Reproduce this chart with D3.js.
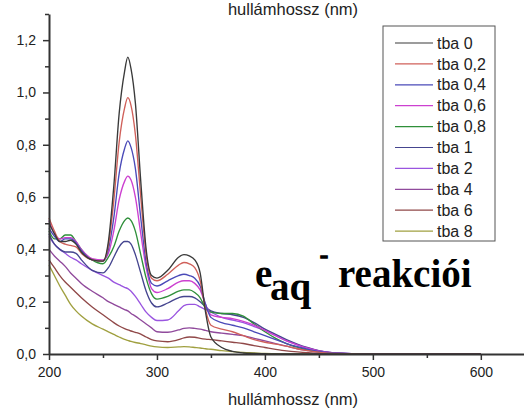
<!DOCTYPE html>
<html>
<head>
<meta charset="utf-8">
<script src="https://d3js.org/d3.v7.min.js"></script>
<style>
  body { margin: 0; background: #fff; }
  svg { display: block; }
  text { font-family: Arial, "Liberation Sans", sans-serif; fill: #222; }
  .big { font-family: "Liberation Serif", "Times New Roman", serif; font-weight: bold; fill: #000; }
</style>
</head>
<body>
<svg width="524" height="409"></svg>
<script>
// wavelengths (nm) shared by all spectra
var wavelengths = [200,205,210,215,220,225,230,240,250,255,260,265,270,273,276,280,285,290,295,300,310,320,325,330,335,340,345,350,360,370,380,390,400,410,420,430,440,450,460,480,500,550,600];

// absorbance
var tba0  = [0.50,0.46,0.43,0.43,0.435,0.42,0.39,0.36,0.355,0.43,0.64,0.92,1.08,1.135,1.09,0.96,0.66,0.40,0.30,0.29,0.32,0.37,0.38,0.375,0.36,0.31,0.16,0.065,0.025,0.01,0.004,0.002,0.001,0,0,0,0,0,0,0,0,0,0];
var tba02 = [0.52,0.47,0.43,0.42,0.415,0.41,0.385,0.36,0.355,0.415,0.585,0.81,0.94,0.98,0.95,0.84,0.60,0.38,0.29,0.28,0.305,0.34,0.35,0.345,0.33,0.28,0.17,0.11,0.095,0.085,0.07,0.055,0.045,0.038,0.03,0.02,0.013,0.007,0.003,0.001,0,0,0];
var tba04 = [0.48,0.45,0.43,0.44,0.44,0.425,0.395,0.36,0.355,0.40,0.52,0.69,0.785,0.815,0.79,0.71,0.52,0.35,0.27,0.26,0.28,0.30,0.305,0.30,0.29,0.26,0.19,0.14,0.12,0.11,0.10,0.085,0.07,0.055,0.04,0.028,0.018,0.01,0.005,0.001,0,0,0];
var tba06 = [0.51,0.46,0.44,0.445,0.445,0.43,0.40,0.365,0.36,0.385,0.47,0.59,0.66,0.68,0.665,0.60,0.46,0.33,0.25,0.235,0.25,0.275,0.28,0.28,0.27,0.245,0.19,0.15,0.14,0.135,0.125,0.11,0.09,0.07,0.05,0.035,0.022,0.012,0.006,0.001,0,0,0];
var tba08 = [0.47,0.44,0.44,0.455,0.455,0.43,0.40,0.36,0.345,0.37,0.41,0.47,0.51,0.52,0.51,0.47,0.38,0.29,0.23,0.21,0.22,0.24,0.245,0.245,0.235,0.215,0.175,0.16,0.155,0.155,0.145,0.115,0.085,0.06,0.04,0.026,0.015,0.008,0.004,0.001,0,0,0];
var tba1  = [0.46,0.42,0.40,0.39,0.39,0.385,0.36,0.32,0.31,0.33,0.37,0.41,0.43,0.43,0.42,0.38,0.31,0.24,0.195,0.18,0.195,0.215,0.22,0.22,0.215,0.20,0.18,0.165,0.155,0.15,0.14,0.12,0.095,0.075,0.055,0.038,0.024,0.013,0.006,0.001,0,0,0];
var tba2  = [0.45,0.42,0.40,0.385,0.37,0.36,0.345,0.32,0.30,0.29,0.275,0.265,0.255,0.25,0.24,0.22,0.19,0.16,0.14,0.128,0.13,0.165,0.185,0.19,0.19,0.18,0.17,0.16,0.14,0.13,0.12,0.105,0.09,0.07,0.05,0.035,0.022,0.012,0.006,0.001,0,0,0];
var tba4  = [0.40,0.375,0.355,0.335,0.31,0.29,0.27,0.24,0.215,0.20,0.19,0.18,0.17,0.165,0.155,0.145,0.13,0.115,0.10,0.085,0.083,0.092,0.098,0.10,0.098,0.095,0.09,0.085,0.08,0.075,0.07,0.06,0.05,0.04,0.03,0.02,0.013,0.007,0.003,0.001,0,0,0];
var tba6  = [0.36,0.33,0.30,0.275,0.255,0.235,0.215,0.18,0.15,0.135,0.12,0.107,0.097,0.092,0.088,0.083,0.076,0.065,0.055,0.05,0.047,0.055,0.062,0.065,0.064,0.06,0.057,0.055,0.05,0.045,0.04,0.032,0.025,0.018,0.012,0.008,0.005,0.003,0.001,0,0,0,0];
var tba8  = [0.34,0.30,0.26,0.225,0.19,0.165,0.145,0.115,0.095,0.085,0.075,0.065,0.056,0.052,0.048,0.044,0.04,0.035,0.03,0.027,0.025,0.027,0.028,0.027,0.025,0.023,0.02,0.018,0.013,0.009,0.006,0.004,0.002,0.001,0,0,0,0,0,0,0,0,0];

var seriesNames = ["tba 0","tba 0,2","tba 0,4","tba 0,6","tba 0,8","tba 1","tba 2","tba 4","tba 6","tba 8"];
var seriesValues = [tba0, tba02, tba04, tba06, tba08, tba1, tba2, tba4, tba6, tba8];
var seriesColors = ["#3a3a3a","#d0605a","#4a4ab8","#cc40d0","#2f8f3a","#45458f","#9a55e0","#904a9c","#904848","#a0a040"];

var xMajor = [200,300,400,500,600];
var xMinor = [250,350,450,550];
var yMajor = [0,0.2,0.4,0.6,0.8,1.0,1.2];
var yMinor = [0.1,0.3,0.5,0.7,0.9,1.1,1.3];

var svg = d3.select("svg");
var x = d3.scaleLinear().domain([200,640]).range([49,524]);
var y = d3.scaleLinear().domain([0,1.3]).range([354,14]);
var comma = function(d){ return d3.format(".1f")(d).replace(".", ","); };

// spectra
var line = d3.line()
  .x(function(d){ return x(d[0]); })
  .y(function(d){ return y(d[1]); })
  .curve(d3.curveMonotoneX);

svg.append("g").selectAll("path")
  .data(seriesValues.map(function(v,i){ return {i:i, pts: wavelengths.map(function(w,j){ return [w, v[j]]; })}; }).reverse())
  .enter().append("path")
    .attr("d", function(d){ return line(d.pts); })
    .attr("fill", "none")
    .attr("stroke", function(d){ return seriesColors[d.i]; })
    .attr("stroke-width", 1.35);

// Y axis
var gy = svg.append("g").attr("transform","translate(49,0)");
gy.call(d3.axisLeft(y).tickValues(yMajor).tickSize(6).tickSizeOuter(0).tickPadding(7).tickFormat(comma));
gy.append("g").call(d3.axisLeft(y).tickValues(yMinor).tickSize(4).tickFormat(""))
  .select(".domain").remove();

// X axis
var gx = svg.append("g").attr("transform","translate(0,354)");
gx.call(d3.axisBottom(x).tickValues(xMajor).tickSize(6).tickSizeOuter(0).tickPadding(7));
gx.append("g").call(d3.axisBottom(x).tickValues(xMinor).tickSize(4).tickFormat(""))
  .select(".domain").remove();

svg.selectAll(".domain").attr("stroke","#333").attr("stroke-width",2);
svg.selectAll(".tick line").attr("stroke","#333").attr("stroke-width",1.5);
svg.selectAll(".tick text").style("font-family","Arial, 'Liberation Sans', sans-serif").style("font-size","14px").attr("fill","#333");

// axis titles (top one cut by the picture edge)
svg.append("text").attr("x",293).attr("y",15).attr("text-anchor","middle")
  .style("font-size","16.5px").text("hullámhossz (nm)");
svg.append("text").attr("x",293).attr("y",405).attr("text-anchor","middle")
  .style("font-size","16.5px").text("hullámhossz (nm)");

// legend
var lg = svg.append("g");
lg.append("rect").attr("x",383).attr("y",26).attr("width",112).attr("height",215)
  .attr("fill","#fff").attr("stroke","#555").attr("stroke-width",1);
var items = lg.selectAll("g.item").data(seriesNames).enter().append("g")
  .attr("transform", function(d,i){ return "translate(0," + (43 + i*20.9) + ")"; });
items.append("line").attr("x1",395).attr("x2",433).attr("y1",0).attr("y2",0)
  .attr("stroke", function(d,i){ return seriesColors[i]; }).attr("stroke-width",1.2);
items.append("text").attr("x",437).attr("y",0).attr("dy","0.35em")
  .style("font-size","16px").text(function(d){ return d; });

// big label
svg.append("text").attr("class","big").attr("x",255).attr("y",287).style("font-size","39px").text("e");
svg.append("text").attr("class","big").attr("x",270).attr("y",300).style("font-size","39px").text("aq");
svg.append("text").attr("class","big").attr("x",320).attr("y",263).style("font-size","24px")
  .attr("stroke","#000").attr("stroke-width",1.5).text("-");
svg.append("text").attr("class","big").attr("x",338).attr("y",287).style("font-size","39px").text("reakciói");
</script>
</body>
</html>
